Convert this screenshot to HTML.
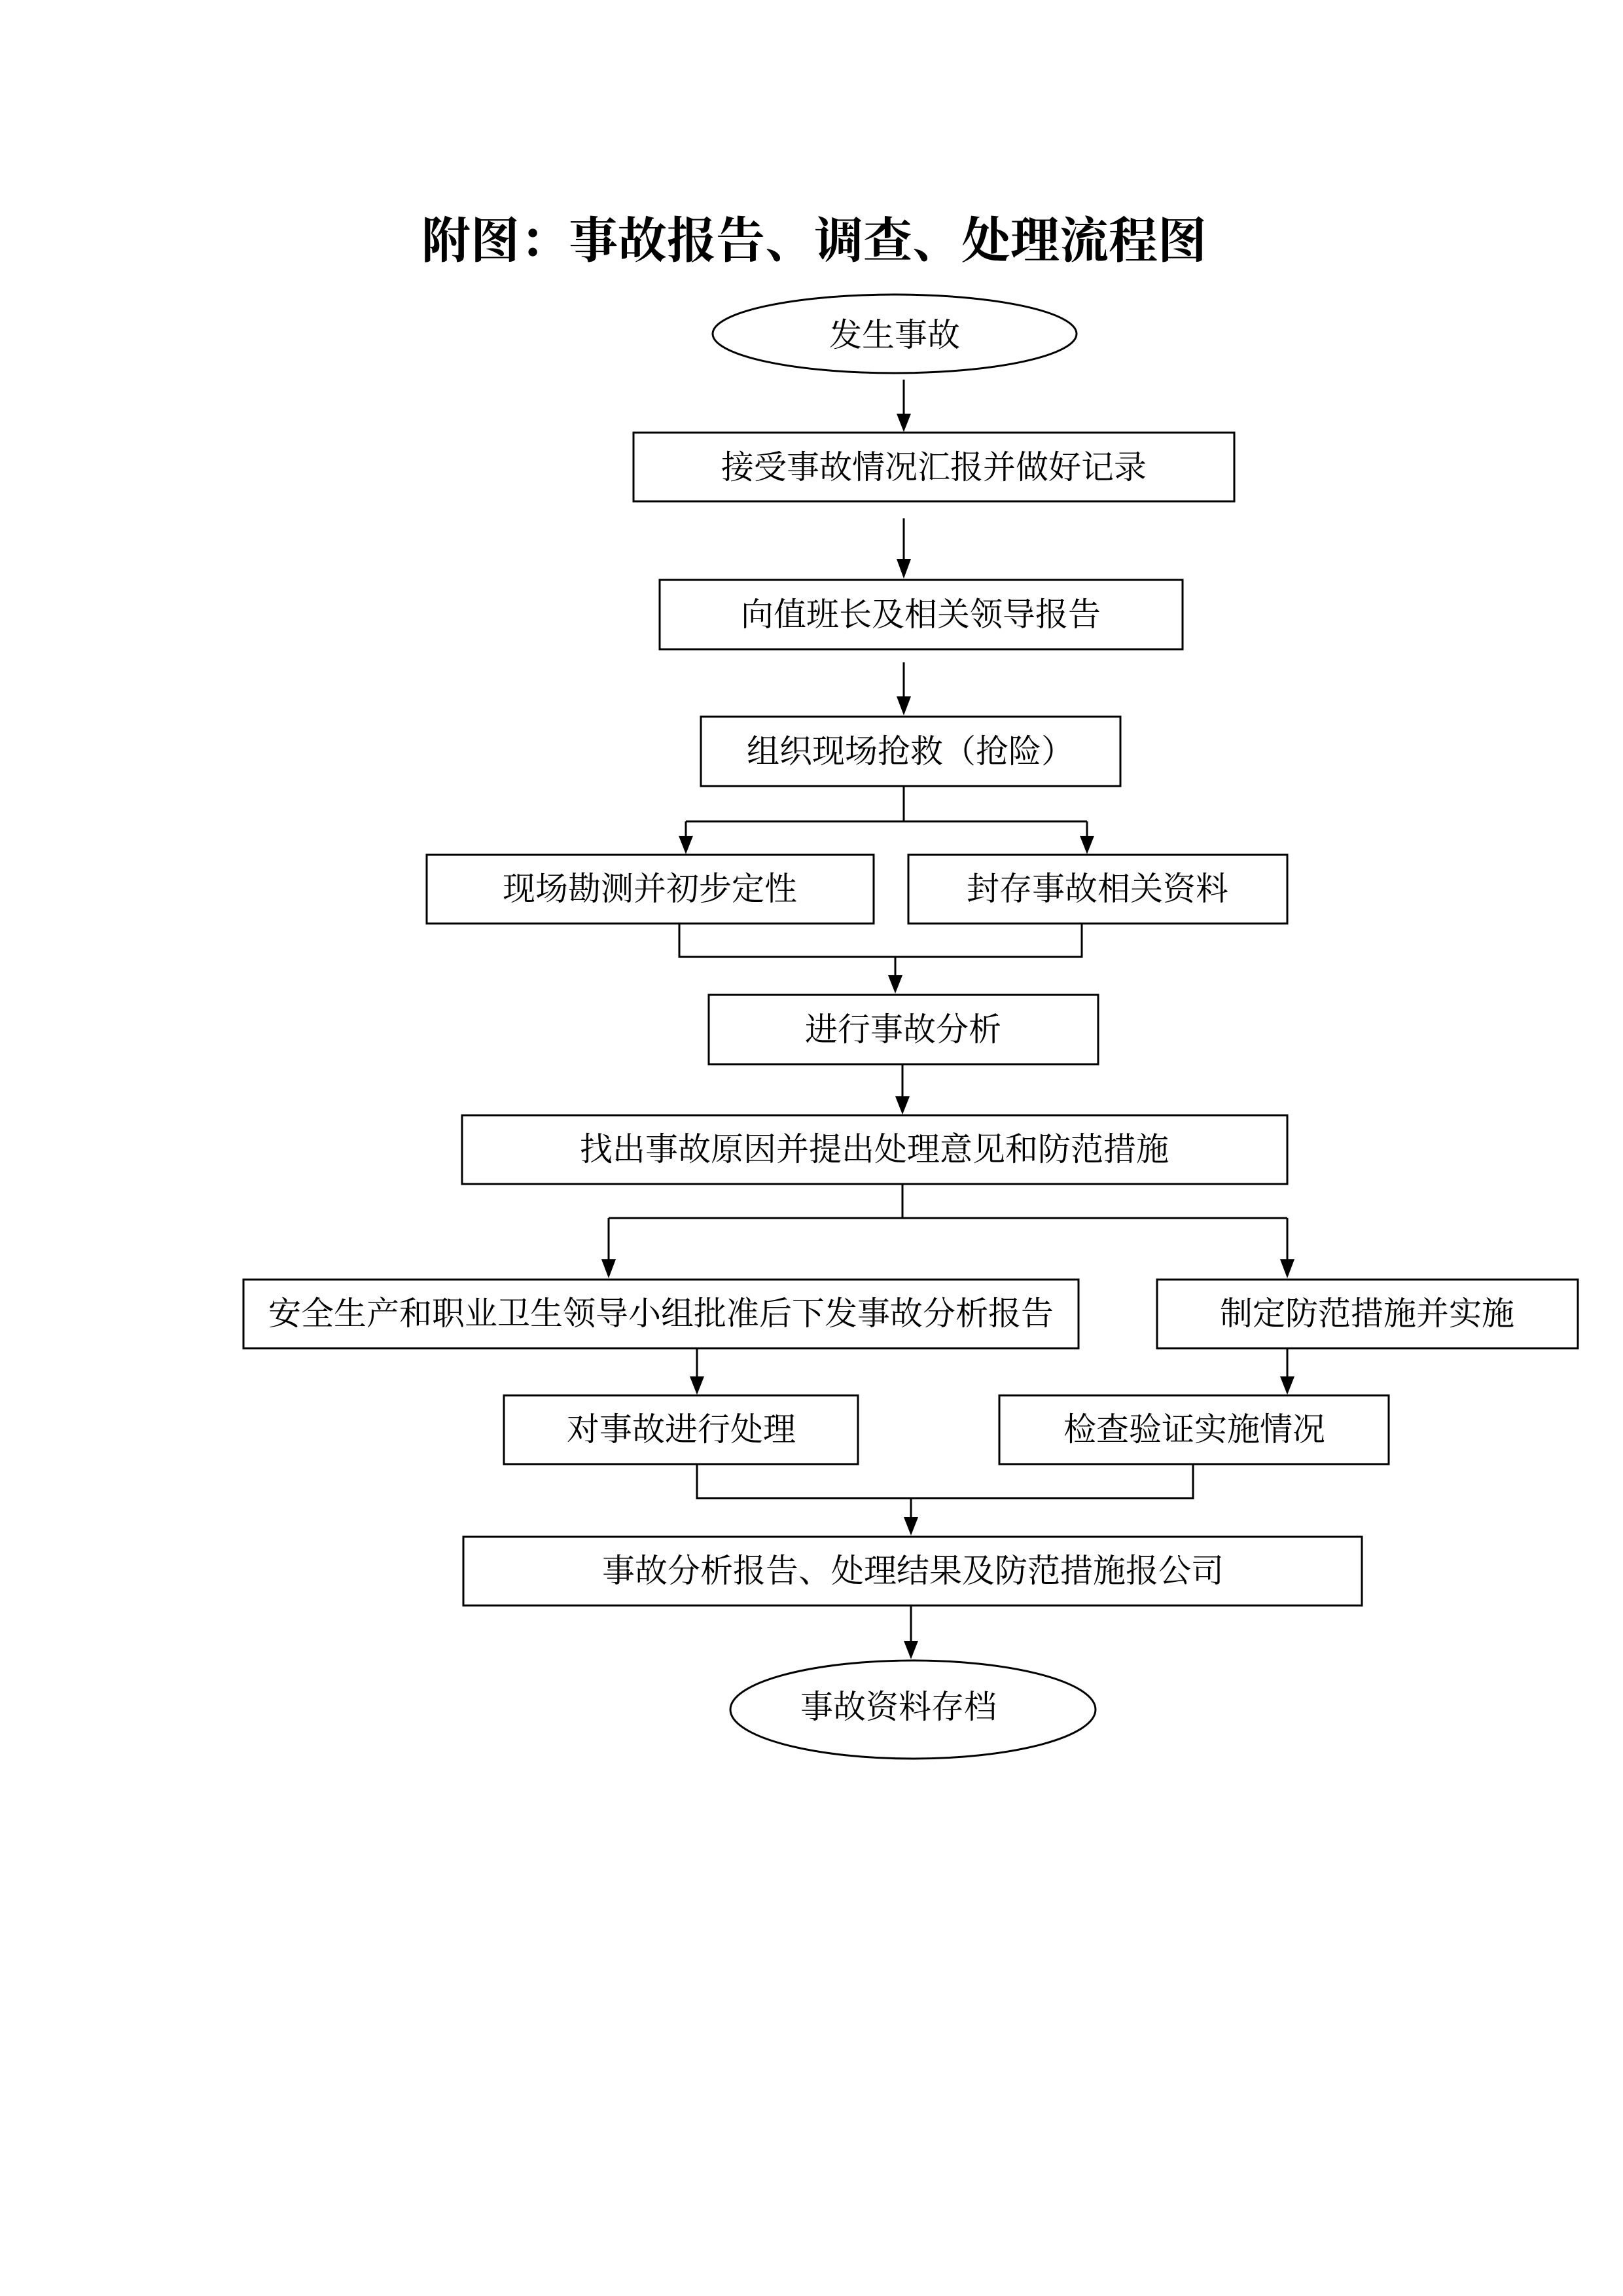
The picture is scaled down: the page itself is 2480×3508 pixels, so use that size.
<!DOCTYPE html>
<html><head><meta charset="utf-8"><style>
html,body{margin:0;padding:0;background:#fff;}
svg{display:block;}
text{font-family:"Liberation Serif","Noto Serif CJK SC",serif;fill:#000;}
</style></head><body>
<svg width="2480" height="3508" viewBox="0 0 2480 3508" xmlns="http://www.w3.org/2000/svg">
<style>
.b{fill:#fff;stroke:#000;stroke-width:3;}
.l{stroke:#000;stroke-width:3;fill:none;}
.t{font-size:50px;text-anchor:middle;dominant-baseline:central;}
</style>
<text x="1244" y="362" font-size="75" font-weight="bold" text-anchor="middle" dominant-baseline="central" style="font-family:'Noto Serif CJK SC',serif">附图：事故报告、调查、处理流程图</text>

<g transform="translate(-5,-4)">
<ellipse class="b" cx="1372" cy="514" rx="278" ry="60"/>
<text class="t" x="1372" y="516">发生事故</text>

<line class="l" x1="1386" y1="584" x2="1386" y2="640"/><path d="M1375,636 L1397,636 L1386,664 Z"/>
<rect class="b" x="973" y="665" width="918" height="105"/>
<text class="t" x="1432" y="718">接受事故情况汇报并做好记录</text>

<line class="l" x1="1386" y1="796" x2="1386" y2="862"/><path d="M1375,858 L1397,858 L1386,888 Z"/>
<rect class="b" x="1013" y="890" width="799" height="106"/>
<text class="t" x="1412" y="943">向值班长及相关领导报告</text>

<line class="l" x1="1386" y1="1016" x2="1386" y2="1070"/><path d="M1375,1068 L1397,1068 L1386,1097 Z"/>
<rect class="b" x="1076" y="1099" width="641" height="106"/>
<text class="t" x="1396" y="1152">组织现场抢救（抢险）</text>

<polyline class="l" points="1386,1205 1386,1259"/>
<line class="l" x1="1053" y1="1259" x2="1666" y2="1259"/>
<line class="l" x1="1053" y1="1259" x2="1053" y2="1285"/><path d="M1042,1281 L1064,1281 L1053,1309 Z"/>
<line class="l" x1="1666" y1="1259" x2="1666" y2="1285"/><path d="M1655,1281 L1677,1281 L1666,1309 Z"/>

<rect class="b" x="657" y="1310" width="683" height="105"/>
<text class="t" x="998" y="1362">现场勘测并初步定性</text>
<rect class="b" x="1393" y="1310" width="579" height="105"/>
<text class="t" x="1682" y="1362">封存事故相关资料</text>

<polyline class="l" points="1043,1415 1043,1466 1658,1466 1658,1415"/>
<line class="l" x1="1373" y1="1466" x2="1373" y2="1496"/><path d="M1362,1494 L1384,1494 L1373,1522 Z"/>

<rect class="b" x="1088" y="1524" width="595" height="106"/>
<text class="t" x="1385" y="1577">进行事故分析</text>

<line class="l" x1="1384" y1="1630" x2="1384" y2="1682"/><path d="M1373,1679 L1395,1679 L1384,1707 Z"/>
<rect class="b" x="711" y="1708" width="1261" height="105"/>
<text class="t" x="1341" y="1760">找出事故原因并提出处理意见和防范措施</text>

<line class="l" x1="1384" y1="1813" x2="1384" y2="1865"/>
<line class="l" x1="935" y1="1865" x2="1972" y2="1865"/>
<line class="l" x1="935" y1="1865" x2="935" y2="1930"/><path d="M924,1928 L946,1928 L935,1957 Z"/>
<line class="l" x1="1972" y1="1865" x2="1972" y2="1930"/><path d="M1961,1928 L1983,1928 L1972,1957 Z"/>

<rect class="b" x="377" y="1959" width="1276" height="105"/>
<text class="t" x="1015" y="2011">安全生产和职业卫生领导小组批准后下发事故分析报告</text>
<rect class="b" x="1773" y="1959" width="643" height="105"/>
<text class="t" x="2094" y="2011">制定防范措施并实施</text>

<line class="l" x1="1070" y1="2064" x2="1070" y2="2110"/><path d="M1059,2107 L1081,2107 L1070,2135 Z"/>
<line class="l" x1="1972" y1="2064" x2="1972" y2="2110"/><path d="M1961,2107 L1983,2107 L1972,2135 Z"/>

<rect class="b" x="775" y="2136" width="541" height="105"/>
<text class="t" x="1046" y="2188">对事故进行处理</text>
<rect class="b" x="1532" y="2136" width="595" height="105"/>
<text class="t" x="1830" y="2188">检查验证实施情况</text>

<polyline class="l" points="1070,2241 1070,2293 1828,2293 1828,2241"/>
<line class="l" x1="1397" y1="2293" x2="1397" y2="2324"/><path d="M1386,2322 L1408,2322 L1397,2350 Z"/>

<rect class="b" x="713" y="2352" width="1373" height="105"/>
<text class="t" x="1400" y="2404">事故分析报告、处理结果及防范措施报公司</text>

<line class="l" x1="1397" y1="2457" x2="1397" y2="2514"/><path d="M1386,2511 L1408,2511 L1397,2539 Z"/>
<ellipse class="b" cx="1400" cy="2616" rx="279" ry="75"/>
<text class="t" x="1378" y="2612">事故资料存档</text>
</g>
</svg>
</body></html>
